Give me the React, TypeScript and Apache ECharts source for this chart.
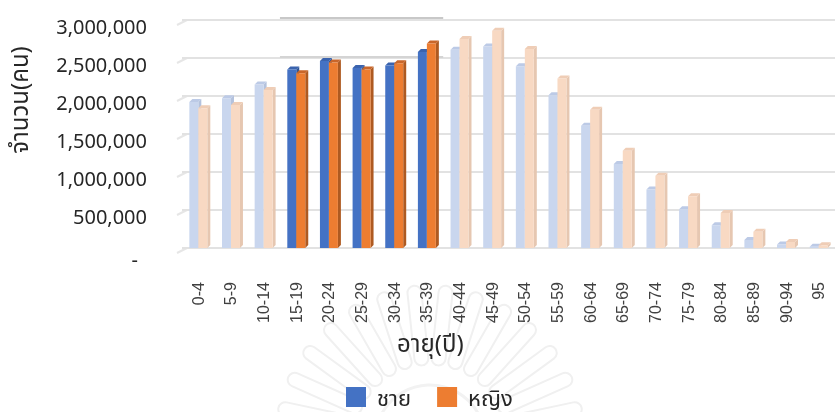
import React, { useEffect, useRef } from 'react';
import * as echarts from 'echarts';

const categories = ['0-4', '5-9', '10-14', '15-19', '20-24', '25-29', '30-34', '35-39', '40-44', '45-49', '50-54', '55-59', '60-64', '65-69', '70-74', '75-79', '80-84', '85-89', '90-94', '95'];
const male = [1920000, 1970000, 2150000, 2350000, 2460000, 2370000, 2400000, 2580000, 2610000, 2650000, 2390000, 2010000, 1610000, 1105000, 770000, 510000, 300000, 105000, 45000, 15000];
const female = [1840000, 1880000, 2080000, 2300000, 2440000, 2350000, 2430000, 2690000, 2750000, 2860000, 2620000, 2230000, 1820000, 1280000, 950000, 680000, 460000, 215000, 80000, 35000];
const highlighted = ['15-19', '20-24', '25-29', '30-34', '35-39'];
const seriesNames = ['ชาย', 'หญิง'];
const yMax = 3000000;
const yStep = 500000;
const xTitle = 'อายุ(ปี)';
const yTitle = 'จำนวน(คน)';

const maleColors = {
  full: { front: '#4472C4', side: '#2F5597', top: '#3A63AE' },
  faded: { front: '#C9D6EE', side: '#B4C2DD', top: '#BCCAE6' },
};
const femaleColors = {
  full: { front: '#ED7D31', side: '#AE5A21', top: '#C9662A' },
  faded: { front: '#F8D9C3', side: '#E6C7B1', top: '#EFCDB6' },
};

const FONT = "'Noto Sans', 'Noto Sans Thai', 'Loma', 'Garuda', sans-serif";
const LABEL_FONT = "'Liberation Sans', Arial, sans-serif";

function makeRender(isMale: boolean) {
  const palette = isMale ? maleColors : femaleColors;
  return (params: any, api: any) => {
    const idx = api.value(0);
    const val = api.value(1);
    const top = api.coord([idx, val]);
    const base = api.coord([idx, 0]);
    const band = api.size([1, 0])[0];
    const w = band * 0.275;
    const x0 = isMale ? top[0] - w : top[0];
    const hl = highlighted.includes(categories[idx]);
    const c = hl ? palette.full : palette.faded;
    const d = 3;
    return {
      type: 'group',
      children: [
        {
          type: 'polygon',
          shape: { points: [[x0 + w, top[1]], [x0 + w + d, top[1] - d], [x0 + w + d, base[1] - d], [x0 + w, base[1]]] },
          style: { fill: c.side },
        },
        {
          type: 'polygon',
          shape: { points: [[x0, top[1]], [x0 + d, top[1] - d], [x0 + w + d, top[1] - d], [x0 + w, top[1]]] },
          style: { fill: c.top },
        },
        {
          type: 'rect',
          shape: { x: x0, y: top[1], width: w, height: base[1] - top[1] },
          style: { fill: c.front },
        },
      ],
    };
  };
}

function watermark(cx: number, cy: number) {
  const children: any[] = [];
  const n = 30;
  for (let i = 0; i < n; i++) {
    const a = (i / n) * Math.PI * 2;
    children.push({
      type: 'rect',
      shape: { x: 75, y: -7, width: 80, height: 14, r: 7 },
      rotation: a,
      style: { fill: 'none', stroke: '#F0F0F0', lineWidth: 2 },
    });
  }
  children.push({ type: 'circle', shape: { cx: 0, cy: 0, r: 55 }, style: { fill: 'none', stroke: '#F2F2F2', lineWidth: 3 } });
  return { type: 'group', x: cx, y: cy, silent: true, z: -10, children };
}

export default function App() {
  const ref = useRef<HTMLDivElement>(null);
  useEffect(() => {
    if (!ref.current) return;
    const chart = echarts.init(ref.current, null, { renderer: 'svg' });
    const baseGraphic: any[] = [
      watermark(430, 440),
      {
        type: 'text',
        left: 397,
        top: 330,
        z: 5,
        style: { text: xTitle, fill: '#262626', font: `24px ${FONT}` },
      },
      {
        type: 'text',
        x: 18,
        y: 100,
        rotation: Math.PI / 2,
        z: 5,
        style: { text: yTitle, fill: '#262626', font: `24px ${FONT}`, align: 'center', verticalAlign: 'middle' },
      },
    ];
    const option: any = {
      animation: false,
      textStyle: { fontFamily: FONT },
      grid: { left: 182, right: 0, top: 20, bottom: 164, containLabel: false },
      legend: {
        left: 346,
        top: 386,
        padding: 0,
        itemWidth: 20,
        itemHeight: 20,
        itemGap: 26,
        icon: 'rect',
        textStyle: { fontSize: 22, lineHeight: 20, color: '#262626', fontFamily: FONT, padding: [0, 0, 0, 6] },
        data: [
          { name: seriesNames[0], itemStyle: { color: maleColors.full.front } },
          { name: seriesNames[1], itemStyle: { color: femaleColors.full.front } },
        ],
      },
      xAxis: {
        type: 'category',
        data: categories,
        axisLine: { show: false },
        axisTick: { show: false },
        axisLabel: { rotate: 90, fontSize: 16, color: '#404040', margin: 34, interval: 0, fontFamily: LABEL_FONT },
      },
      yAxis: {
        type: 'value',
        min: 0,
        max: yMax,
        interval: yStep,
        axisLine: { show: false },
        axisTick: { show: false },
        splitLine: { lineStyle: { color: '#E2E2E2', width: 2 } },
        axisLabel: {
          fontSize: 20,
          color: '#262626',
          margin: 35,
          padding: [12, 0, 0, 0],
          fontFamily: FONT,
          formatter: (v: number) => (v === 0 ? '{d|-}' : v.toLocaleString('en-US')),
          rich: { d: { fontSize: 20, color: '#262626', padding: [11, 9, 0, 0], fontFamily: FONT } },
        },
      },
      series: [
        {
          name: seriesNames[0],
          type: 'custom',
          renderItem: makeRender(true),
          encode: { x: 0, y: 1 },
          itemStyle: { color: maleColors.full.front },
          data: male.map((v, i) => [i, v]),
          z: 2,
        },
        {
          name: seriesNames[1],
          type: 'custom',
          renderItem: makeRender(false),
          encode: { x: 0, y: 1 },
          itemStyle: { color: femaleColors.full.front },
          data: female.map((v, i) => [i, v]),
          z: 3,
        },
      ],
      graphic: baseGraphic,
    };
    chart.setOption(option);

    const extra: any[] = [];
    // slanted floor edges at the left end of each gridline
    for (let v = 0; v <= yMax; v += yStep) {
      const p = chart.convertToPixel({ gridIndex: 0 }, [0, v]) as number[];
      const gl = 182;
      extra.push({
        type: 'line',
        shape: { x1: gl - 5, y1: p[1] + 5, x2: gl + 5, y2: p[1] },
        style: { stroke: '#E6E6E6', lineWidth: 2 },
        z: 0,
      });
    }
    // darker segments on the gridlines over the highlighted range
    const firstIdx = categories.indexOf(highlighted[0]);
    const lastIdx = categories.indexOf(highlighted[highlighted.length - 1]);
    const p0 = chart.convertToPixel({ gridIndex: 0 }, [firstIdx, yMax]) as number[];
    const p1 = chart.convertToPixel({ gridIndex: 0 }, [lastIdx, yMax - yStep]) as number[];
    const p2 = chart.convertToPixel({ gridIndex: 0 }, [firstIdx + 1, yMax]) as number[];
    const half = (p2[0] - p0[0]) / 2;
    extra.push(
      {
        type: 'line',
        shape: { x1: p0[0] - half, y1: p0[1] - 2, x2: p1[0] + half, y2: p0[1] - 2 },
        style: { stroke: '#C8C8C8', lineWidth: 2 },
        z: 1,
      },
      {
        type: 'line',
        shape: { x1: p0[0] - half, y1: p1[1] - 1, x2: p1[0] + half, y2: p1[1] - 1 },
        style: { stroke: '#D4D4D4', lineWidth: 2 },
        z: 1,
      },
    );
    chart.setOption({ graphic: [...baseGraphic, ...extra] });
    return () => chart.dispose();
  }, []);
  return <div ref={ref} style={{ position: 'fixed', left: 0, top: 0, width: 835, height: 412 }} />;
}
